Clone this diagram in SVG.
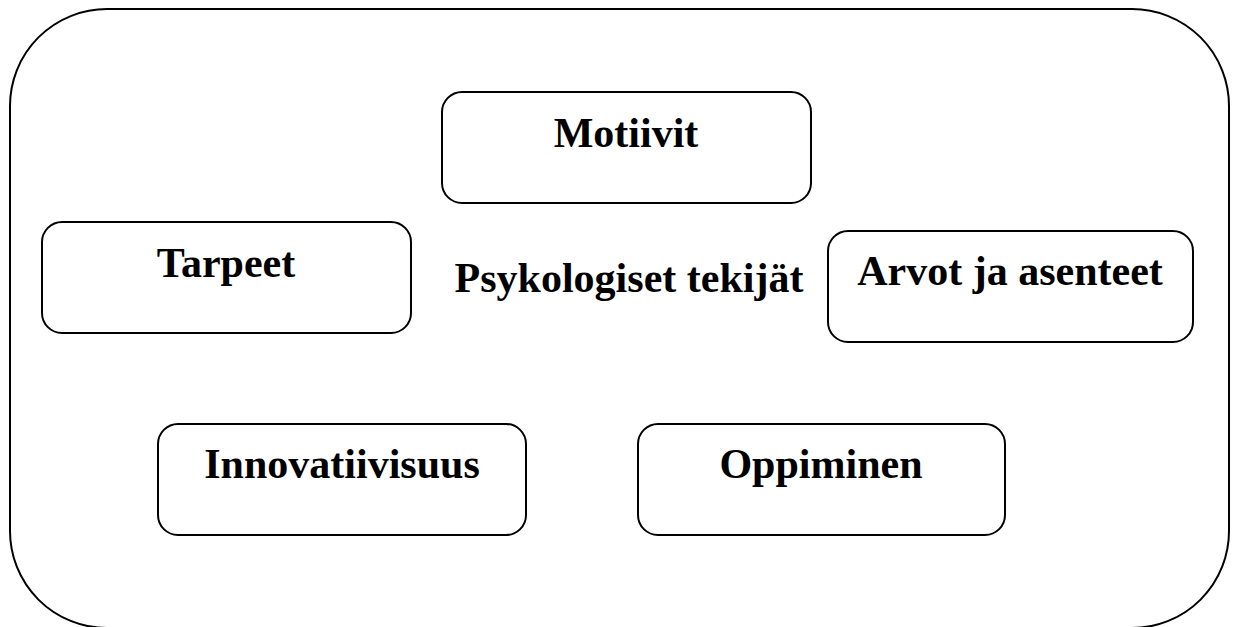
<svg xmlns="http://www.w3.org/2000/svg" width="1237" height="627" viewBox="0 0 1237 627">
<style>
.box{fill:#fff;stroke:#000;stroke-width:2}
.lbl{font-family:"Liberation Serif","Times New Roman",serif;font-weight:bold;font-size:42px;fill:#000;text-anchor:middle}
</style>
<rect width="1237" height="627" fill="#fff"/>
<g id="container">
<rect x="10" y="9" width="1219" height="619" rx="97" ry="97" fill="none" stroke="#000" stroke-width="2"/>
<text class="lbl" x="629" y="292">Psykologiset tekijät</text>
</g>
<g id="motiivit">
<rect class="box" x="442" y="92" width="369" height="111" rx="20"/>
<text class="lbl" x="626" y="147">Motiivit</text>
</g>
<g id="tarpeet">
<rect class="box" x="42" y="222" width="369" height="111" rx="20"/>
<text class="lbl" x="226" y="277">Tarpeet</text>
</g>
<g id="arvot">
<rect class="box" x="828" y="231" width="365" height="111" rx="20"/>
<text class="lbl" x="1010" y="285">Arvot ja asenteet</text>
</g>
<g id="innovatiivisuus">
<rect class="box" x="158" y="424" width="368" height="111" rx="20"/>
<text class="lbl" x="342" y="478">Innovatiivisuus</text>
</g>
<g id="oppiminen">
<rect class="box" x="638" y="424" width="367" height="111" rx="20"/>
<text class="lbl" x="821" y="478">Oppiminen</text>
</g>
<g id="connectors"></g>
</svg>
